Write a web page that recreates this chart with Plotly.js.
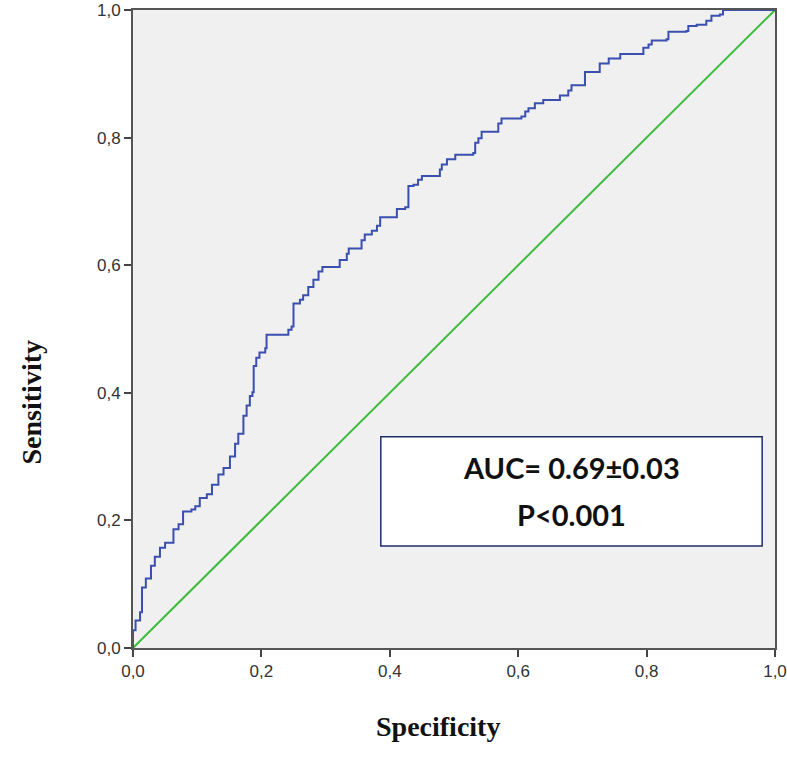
<!DOCTYPE html>
<html>
<head>
<meta charset="utf-8">
<script src="https://cdn.plot.ly/plotly-3.0.1.min.js"></script>
<style>
  body { margin: 0; background: #ffffff; }
  #chart { width: 787px; height: 758px; }
</style>
</head>
<body>
<div id="chart"></div>
<script>
// ROC curve (1 - specificity on x, sensitivity on y)
var fpr = [0, 0, 0.004, 0.011, 0.014, 0.020, 0.028, 0.034, 0.042, 0.050, 0.063, 0.071, 0.078, 0.091, 0.097,
  0.104, 0.115, 0.123, 0.133, 0.141, 0.151, 0.159, 0.164, 0.172, 0.177, 0.182, 0.186, 0.188, 0.192, 0.197,
  0.206, 0.208, 0.237, 0.242, 0.247, 0.250, 0.260, 0.265, 0.273, 0.281, 0.289, 0.295, 0.317, 0.322, 0.333,
  0.336, 0.356, 0.361, 0.372, 0.380, 0.385, 0.408, 0.411, 0.424, 0.429, 0.437, 0.444, 0.450, 0.473, 0.478,
  0.481, 0.489, 0.502, 0.530, 0.533, 0.538, 0.543, 0.566, 0.569, 0.574, 0.605, 0.611, 0.616, 0.626, 0.639,
  0.665, 0.678, 0.683, 0.699, 0.704, 0.722, 0.727, 0.741, 0.759, 0.790, 0.795, 0.803, 0.808, 0.831, 0.834,
  0.862, 0.865, 0.878, 0.893, 0.901, 0.914, 0.919, 1.0];
var tpr = [0, 0.028, 0.043, 0.056, 0.095, 0.109, 0.129, 0.143, 0.157, 0.165, 0.186, 0.194, 0.214, 0.217, 0.222,
  0.235, 0.241, 0.256, 0.272, 0.282, 0.300, 0.320, 0.336, 0.364, 0.380, 0.395, 0.401, 0.442, 0.455, 0.463,
  0.470, 0.491, 0.491, 0.499, 0.504, 0.540, 0.546, 0.553, 0.566, 0.577, 0.590, 0.597, 0.597, 0.608, 0.618,
  0.626, 0.639, 0.648, 0.654, 0.662, 0.675, 0.675, 0.688, 0.691, 0.724, 0.726, 0.734, 0.740, 0.740, 0.750,
  0.758, 0.766, 0.773, 0.776, 0.792, 0.799, 0.809, 0.809, 0.822, 0.830, 0.833, 0.841, 0.846, 0.854, 0.859,
  0.866, 0.874, 0.882, 0.882, 0.903, 0.903, 0.916, 0.924, 0.931, 0.931, 0.941, 0.946, 0.952, 0.954, 0.966,
  0.967, 0.975, 0.977, 0.983, 0.991, 0.993, 1.0, 1.0];

var refX = [0, 1];
var refY = [0, 1];

var tickVals = [0, 0.2, 0.4, 0.6, 0.8, 1.0];
var tickText = ["0,0", "0,2", "0,4", "0,6", "0,8", "1,0"];

var statLines = ["AUC= 0.69±0.03", "P<0.001"];

var traces = [
  {
    x: refX, y: refY, mode: "lines", type: "scatter",
    line: {color: "#3dbb3d", width: 2},
    hoverinfo: "skip"
  },
  {
    x: fpr, y: tpr, mode: "lines", type: "scatter",
    line: {color: "#3a4fae", width: 2, shape: "hv"}
  }
];

var axisStyle = {
  range: [0, 1],
  tickvals: tickVals,
  ticktext: tickText,
  ticks: "outside",
  ticklen: 7,
  tickwidth: 2,
  tickcolor: "#444",
  showline: true,
  linecolor: "#555",
  linewidth: 2,
  mirror: true,
  showgrid: false,
  zeroline: false,
  fixedrange: true,
  ticklabeloverflow: "allow",
  tickfont: {family: "Liberation Sans, Arial, sans-serif", size: 17, color: "#333"}
};

var layout = {
  width: 787,
  height: 758,
  margin: {l: 133, r: 12, t: 10, b: 110},
  paper_bgcolor: "#ffffff",
  plot_bgcolor: "#f0f0f0",
  showlegend: false,
  xaxis: Object.assign({}, axisStyle),
  yaxis: Object.assign({}, axisStyle),
  shapes: [{
    type: "rect", xref: "x", yref: "y",
    x0: 0.386, x1: 0.980, y0: 0.160, y1: 0.331,
    fillcolor: "#ffffff",
    line: {color: "#1f2d6b", width: 1.5},
    layer: "above"
  }],
  annotations: [
    {
      xref: "x", yref: "y", x: 0.683, y: 0.283, showarrow: false,
      text: "<b>" + statLines[0] + "</b>",
      font: {family: "Lato, Open Sans, sans-serif", size: 29, color: "#111"}
    },
    {
      xref: "x", yref: "y", x: 0.683, y: 0.210, showarrow: false,
      text: "<b>" + statLines[1] + "</b>",
      font: {family: "Lato, Open Sans, sans-serif", size: 29, color: "#111"}
    },
    {
      xref: "paper", yref: "paper", x: 0.475, y: -0.151, showarrow: false,
      text: "<b>Specificity</b>",
      font: {family: "Liberation Serif, Times New Roman, serif", size: 28, color: "#111"}
    },
    {
      xref: "paper", yref: "paper", x: -0.186, y: 0.385, showarrow: false,
      textangle: -90,
      text: "<b>Sensitivity</b>",
      font: {family: "Liberation Serif, Times New Roman, serif", size: 28, color: "#111"}
    }
  ]
};

Plotly.newPlot("chart", traces, layout, {displayModeBar: false, staticPlot: true});
</script>
</body>
</html>
